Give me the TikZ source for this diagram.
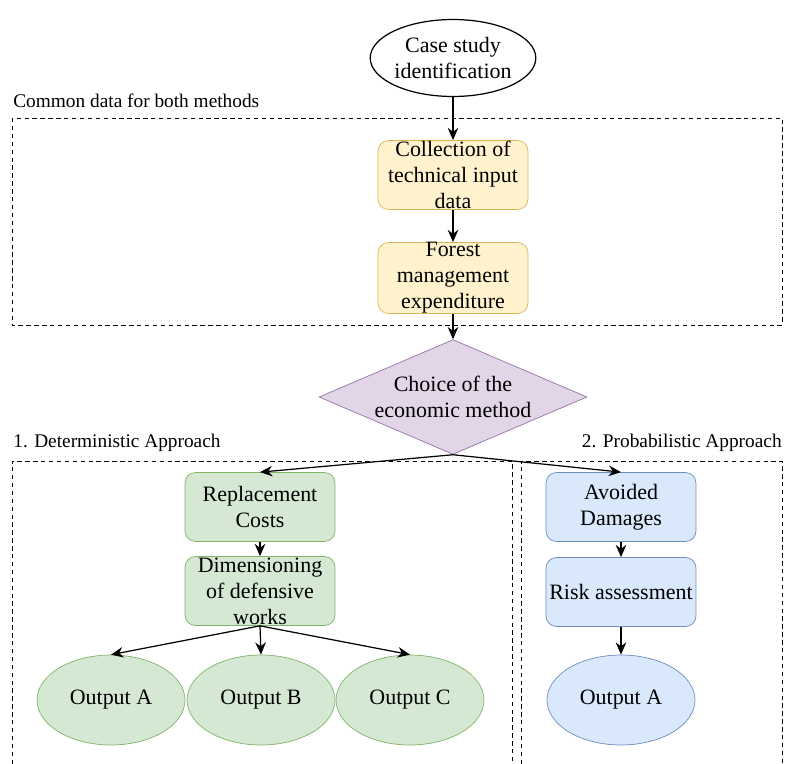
\documentclass[tikz,border=0pt]{standalone}
\usepackage{fontspec}
\setmainfont{LiberationSerif}[Extension=.ttf, UprightFont=*-Regular, BoldFont=*-Bold]
\usepackage{tikz}
\usetikzlibrary{shapes.geometric,arrows.meta}
\usepackage{xcolor}

\definecolor{yelfill}{HTML}{FFF2CC}
\definecolor{yeldraw}{HTML}{D6B656}
\definecolor{grnfill}{HTML}{D5E8D4}
\definecolor{grndraw}{HTML}{82B366}
\definecolor{blufill}{HTML}{DAE8FC}
\definecolor{bludraw}{HTML}{6C8EBF}
\definecolor{purfill}{HTML}{E1D5E7}
\definecolor{purdraw}{HTML}{9673A6}

\tikzset{
  box/.style={rectangle, rounded corners=6pt, minimum width=3cm, minimum height=1.38cm,
    inner sep=0pt, align=center, font=\fontsize{12.5}{14.8}\selectfont},
  output/.style={ellipse, minimum width=2.96cm, minimum height=1.8cm, inner sep=0pt,
    align=center, font=\fontsize{12.5}{14.8}\selectfont},
  group/.style={dash pattern=on 2.5pt off 2pt, line width=0.5pt},
  grouplabel/.style={inner sep=0pt, font=\fontsize{11}{13}\selectfont},
  arr/.style={-{Stealth[length=7pt,width=6pt]}, line width=0.7pt}
}

\begin{document}
\begin{tikzpicture}[x=0.02cm, y=-0.02cm]
\useasboundingbox (0,0) rectangle (785,764);

% group frames
\draw[group] (12,118) rectangle (782,325);
\draw[group] (12,764) -- (12,461) -- (512,461) -- (512,764);
\draw[group] (521,764) -- (521,461) -- (782,461) -- (782,764);
\node[grouplabel, anchor=west] (lcommon) at (13,101) {Common data for both methods};
\node[grouplabel, anchor=west] (ldet) at (13,443) {1. Deterministic Approach};
\node[grouplabel, anchor=east] (lprob) at (782,443) {2. Probabilistic Approach};

% common part
\node[ellipse, draw, line width=0.7pt, minimum width=3.04cm, minimum height=1.54cm, inner sep=0pt,
  align=center, font=\fontsize{12.5}{14.8}\selectfont] (case) at (453,58) {Case study\\identification};
\node[box, fill=yelfill, draw=yeldraw] (collect) at (453,175) {Collection of\\technical input\\data};
\node[box, fill=yelfill, draw=yeldraw] (forest) at (453,278) {Forest\\management\\expenditure};
\node[diamond, aspect=2.144, fill=purfill, draw=purdraw, minimum width=5.36cm, inner sep=0pt,
  align=center, font=\fontsize{12.5}{14.8}\selectfont] (choice) at (453,397) {Choice of the\\economic method};

% deterministic
\node[box, fill=grnfill, draw=grndraw] (repl) at (260,507) {Replacement\\Costs};
\node[box, fill=grnfill, draw=grndraw] (dimen) at (260,591) {Dimensioning\\of defensive\\works};
\node[output, fill=grnfill, draw=grndraw] (outA) at (111,700) {Output A};
\node[output, fill=grnfill, draw=grndraw] (outB) at (261,700) {Output B};
\node[output, fill=grnfill, draw=grndraw] (outC) at (410,700) {Output C};

% probabilistic
\node[box, fill=blufill, draw=bludraw] (avoid) at (621,507) {Avoided\\Damages};
\node[box, fill=blufill, draw=bludraw] (risk) at (621,592) {Risk assessment};
\node[output, fill=blufill, draw=bludraw] (outP) at (621,700) {Output A};

% arrows
\draw[arr] (case) -- (collect);
\draw[arr] (collect) -- (forest);
\draw[arr] (forest) -- (choice);
\draw[arr] (choice.south) -- (repl.north);
\draw[arr] (choice.south) -- (avoid.north);
\draw[arr] (repl) -- (dimen);
\draw[arr] (dimen.south) -- (outA.north);
\draw[arr] (dimen.south) -- (outB.north);
\draw[arr] (dimen.south) -- (outC.north);
\draw[arr] (avoid) -- (risk);
\draw[arr] (risk) -- (outP);
\end{tikzpicture}
\end{document}
